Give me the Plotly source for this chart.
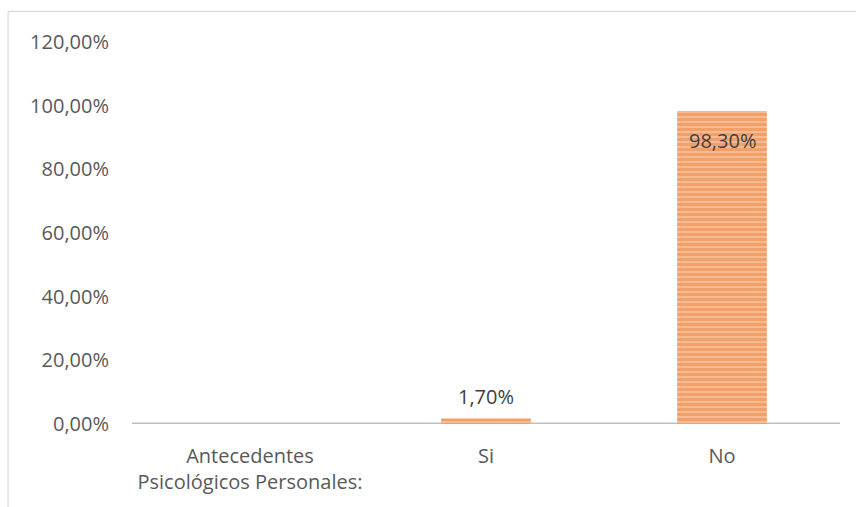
import plotly.graph_objects as go

# Survey results: personal psychological history
categories = ["Antecedentes<br>Psicológicos Personales:", "Si", "No"]
values = [None, 1.70, 98.30]
labels = ["", "1,70%", "98,30%"]
tick_vals = [0, 20, 40, 60, 80, 100, 120]
tick_text = ["0,00%", "20,00%", "40,00%", "60,00%", "80,00%", "100,00%", "120,00%"]

font_family = "Open Sans, Liberation Sans, sans-serif"
text_color = "#595959"
font_size = 20

fig = go.Figure()
fig.add_trace(go.Bar(
    x=categories,
    y=values,
    width=0.38,
    marker=dict(
        color="#F7C3A0",
        line=dict(width=0),
        pattern=dict(shape="-", fgcolor="#ED7D31", size=5, solidity=0.7,
                     fillmode="overlay"),
    ),
    hoverinfo="skip",
))

# value labels: above short bars, inside the top of tall bars
annotations = []
for cat, val, lab in zip(categories, values, labels):
    if val is None:
        continue
    inside = val > 50
    annotations.append(dict(
        x=cat, y=val, xref="x", yref="y", text=lab, showarrow=False,
        yanchor="top" if inside else "bottom",
        yshift=-14 if inside else 7,
        font=dict(family=font_family, size=font_size, color="#404040"),
    ))

fig.update_layout(
    width=856,
    height=507,
    margin=dict(l=132, r=16, t=42, b=83),
    paper_bgcolor="white",
    plot_bgcolor="white",
    showlegend=False,
    annotations=annotations,
    xaxis=dict(
        showgrid=False,
        showline=False,
        ticks="",
        ticklabelstandoff=18,
        tickfont=dict(family=font_family, size=font_size, color=text_color),
        fixedrange=True,
    ),
    yaxis=dict(
        range=[0, 120],
        tickvals=tick_vals,
        ticktext=tick_text,
        showgrid=False,
        zeroline=False,
        showline=False,
        ticks="",
        ticklabelstandoff=22,
        tickfont=dict(family=font_family, size=font_size, color=text_color),
        fixedrange=True,
    ),
    shapes=[
        # category axis baseline
        dict(type="line", xref="paper", yref="y", x0=0, x1=1, y0=0, y1=0,
             line=dict(color="#BFBFBF", width=3), layer="below"),
        # chart area frame (left and top edges)
        dict(type="line", xref="paper", yref="paper", x0=-0.175, x1=-0.175,
             y0=-0.3, y1=1.08, line=dict(color="#D9D9D9", width=1.2)),
        dict(type="line", xref="paper", yref="paper", x0=-0.175, x1=1.03,
             y0=1.08, y1=1.08, line=dict(color="#D9D9D9", width=1.2)),
    ],
)

fig.write_html("out.html")
